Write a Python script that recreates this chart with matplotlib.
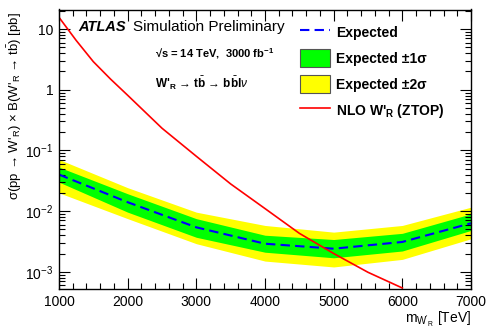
import matplotlib
matplotlib.use('Agg')
import matplotlib.pyplot as plt
from matplotlib.patches import Patch
from matplotlib.lines import Line2D
from matplotlib.ticker import FixedLocator, FuncFormatter, MultipleLocator, LogLocator, NullFormatter

plt.rcParams['font.family'] = ['Liberation Sans', 'DejaVu Sans']
plt.rcParams['mathtext.fontset'] = 'custom'
plt.rcParams['mathtext.rm'] = 'Liberation Sans'
plt.rcParams['mathtext.it'] = 'Liberation Sans:italic'
plt.rcParams['mathtext.bf'] = 'Liberation Sans:bold'

# expected limit and bands [pb]
mass = [1000, 2000, 3000, 4000, 5000, 6000, 7000]
expected = [0.040, 0.014, 0.0054, 0.0029, 0.0024, 0.0031, 0.0063]
band1_up = [0.053, 0.0193, 0.0075, 0.0040, 0.0034, 0.0043, 0.0090]
band1_dn = [0.030, 0.0096, 0.0037, 0.0021, 0.0017, 0.0022, 0.0048]
band2_up = [0.071, 0.0243, 0.0096, 0.0058, 0.0045, 0.0058, 0.0116]
band2_dn = [0.020, 0.0075, 0.0029, 0.0015, 0.0012, 0.0016, 0.0035]

# NLO theory curve (ZTOP)
theo_mass = [1000, 1250, 1500, 1750, 2000, 2500, 3000, 3500, 4000, 4500, 5000, 5500, 6000]
theo_xsec = [15.6, 6.5, 2.9, 1.5, 0.81, 0.232, 0.080, 0.028, 0.011, 0.0043, 0.0020, 0.00098, 0.00054]

fig = plt.figure(figsize=(4.91, 3.33), dpi=100)
ax = fig.add_axes([59/491, 1-289/333, (471-59)/491, (289-9.5)/333])

ax.fill_between(mass, band2_dn, band2_up, color='#ffff00', lw=0)
ax.fill_between(mass, band1_dn, band1_up, color='#00ff00', lw=0)
ax.plot(mass, expected, color='#0000ff', lw=1.5, dashes=(4.5, 2.5))
ax.plot(theo_mass, theo_xsec, color='#ff0000', lw=1.2)

ax.set_yscale('log')
ax.set_xlim(1000, 7000)
ax.set_ylim(5.2e-4, 21)

ax.xaxis.set_major_locator(MultipleLocator(1000))
ax.xaxis.set_minor_locator(MultipleLocator(200))
ax.yaxis.set_major_locator(FixedLocator([1e-3, 1e-2, 1e-1, 1, 10]))
ax.yaxis.set_minor_locator(LogLocator(base=10, subs=range(2, 10), numticks=20))
ax.yaxis.set_minor_formatter(NullFormatter())
ylabels = {1e-3: r'$10^{-3}$', 1e-2: r'$10^{-2}$', 1e-1: r'$10^{-1}$', 1: '1', 10: '10'}
ax.yaxis.set_major_formatter(FuncFormatter(lambda v, p: ylabels.get(v, '')))

ax.tick_params(which='both', direction='in', top=True, right=True, labelsize=10, width=0.8)
ax.tick_params(which='major', length=8, pad=4)
ax.tick_params(which='minor', length=4)
for s in ax.spines.values():
    s.set_linewidth(1.0)

ax.set_xlabel(r"m$_{\mathrm{W'_R}}$ [TeV]", fontsize=10, loc='right', labelpad=1)
fig.text(15/491, 1-12/333, r"σ(pp → W'$_\mathrm{R}$) × B(W'$_\mathrm{R}$ → t$\bar{\mathrm{b}}$) [pb]",
         rotation=90, ha='center', va='top', fontsize=9.5)

fig.text(78/491, 1-27/333, 'ATLAS', fontsize=10.5, fontweight='bold', fontstyle='italic', va='center')
fig.text(133/491, 1-27/333, 'Simulation Preliminary', fontsize=11, va='center')
fig.text(155/491, 1-54/333, r'√s = 14 TeV,  3000 fb$^{\mathbf{-1}}$', fontsize=8, fontweight='bold', va='center')
fig.text(155/491, 1-83/333, r"W'$_\mathbf{R}$ → t$\bar{\mathbf{b}}$ → b$\bar{\mathbf{b}}$l$\nu$", fontsize=8.5, fontweight='bold', va='center')

handles = [
    Line2D([], [], color='#0000ff', lw=1.5, dashes=(4.5, 2.5)),
    Patch(facecolor='#00ff00', edgecolor='#555555', lw=0.8),
    Patch(facecolor='#ffff00', edgecolor='#555555', lw=0.8),
    Line2D([], [], color='#ff0000', lw=1.2),
]
labels = ['Expected', 'Expected ±1σ', 'Expected ±2σ', r"NLO W'$_\mathbf{R}$ (ZTOP)"]
leg = ax.legend(handles, labels, loc='upper left', bbox_to_anchor=(300/491, 1-23/333), bbox_transform=fig.transFigure,
                frameon=False, borderpad=0, borderaxespad=0, handlelength=2.16, handleheight=1.62,
                labelspacing=0.58, handletextpad=0.45, prop={'size': 10, 'weight': 'bold'})

fig.savefig('out.png', dpi=100)
